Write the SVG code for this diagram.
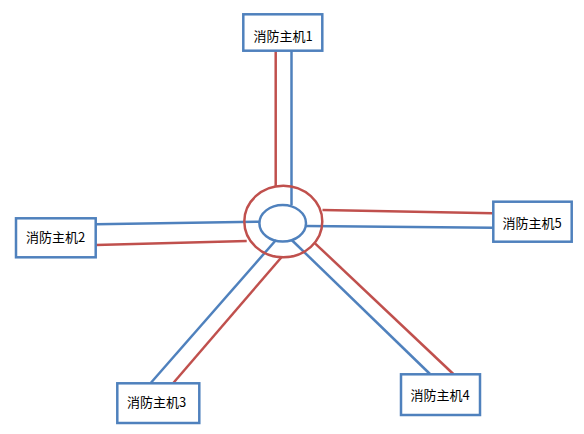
<svg xmlns="http://www.w3.org/2000/svg" width="584" height="434" viewBox="0 0 584 434">
<style>
.box{fill:#fff;stroke:#4F81BD;stroke-width:2.5}
.lbl{font-family:"Noto Sans CJK SC","Liberation Sans",sans-serif;font-size:13px;fill:#000;text-anchor:middle}
.r{stroke:#C0504D;stroke-width:2.5;fill:none}
.b{stroke:#4F81BD;stroke-width:2.5;fill:none}
</style>
<rect width="584" height="434" fill="#fff"/>
<g id="connectors">
<line class="r" x1="275.7" y1="51" x2="275.7" y2="187"/>
<line class="b" x1="291.5" y1="51" x2="291.5" y2="205"/>
<line class="b" x1="96" y1="224.3" x2="260" y2="221.7"/>
<line class="r" x1="96" y1="245" x2="246.7" y2="241"/>
<line class="r" x1="322.5" y1="210" x2="493" y2="213.3"/>
<line class="b" x1="306" y1="226" x2="493" y2="227.7"/>
<line class="b" x1="276" y1="240" x2="150.7" y2="383"/>
<line class="r" x1="281.7" y1="257" x2="173.3" y2="383"/>
<line class="b" x1="291.7" y1="240" x2="430" y2="374"/>
<line class="r" x1="315" y1="243.3" x2="453.3" y2="374"/>
</g>
<g id="hub">
<ellipse class="r" cx="283.3" cy="221.5" rx="39" ry="35.8"/>
<ellipse class="b" cx="282.7" cy="223.3" rx="23.3" ry="18.3"/>
</g>
<g id="node1"><rect class="box" x="243.3" y="14.3" width="79" height="36.4"/><text class="lbl" x="283" y="41">消防主机1</text></g>
<g id="node2"><rect class="box" x="16" y="218.3" width="79.7" height="39"/><text class="lbl" x="55.5" y="242">消防主机2</text></g>
<g id="node3"><rect class="box" x="117.3" y="383.3" width="82" height="39.7"/><text class="lbl" x="156.5" y="407">消防主机3</text></g>
<g id="node4"><rect class="box" x="401" y="374.3" width="79" height="40.7"/><text class="lbl" x="440" y="400">消防主机4</text></g>
<g id="node5"><rect class="box" x="493.3" y="201.7" width="78.4" height="40"/><text class="lbl" x="532" y="228">消防主机5</text></g>
</svg>
